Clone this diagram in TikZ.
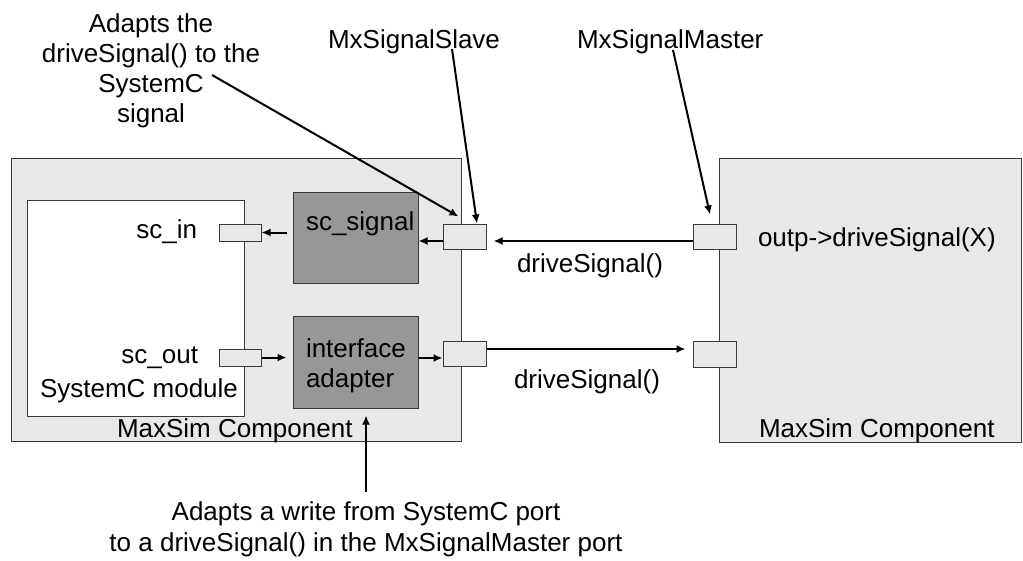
\documentclass[tikz,border=0pt]{standalone}
\usepackage{fontspec}
\setmainfont{Liberation Sans}
\usetikzlibrary{arrows.meta}
\definecolor{compgray}{HTML}{E8E8E8}
\definecolor{blockgray}{HTML}{979797}
\definecolor{edgegray}{HTML}{3A3A3A}
\tikzset{
  comp/.style={draw=edgegray, fill=compgray, line width=1pt, inner sep=0pt},
  module/.style={draw=edgegray, fill=white, line width=1pt, inner sep=0pt,
    minimum width=217pt, minimum height=216pt},
  block/.style={draw=edgegray, fill=blockgray, line width=1pt, inner sep=0pt,
    minimum width=125pt, minimum height=91pt},
  port/.style={draw=edgegray, fill=compgray, line width=1pt, inner sep=0pt,
    minimum width=43pt, minimum height=25pt},
  scport/.style={port, minimum width=42pt, minimum height=17pt},
  txt/.style={inner sep=0pt, font=\fontsize{26}{30}\selectfont},
}

\begin{document}
\begin{tikzpicture}[x=1pt, y=-1pt, >={Latex[length=9pt,width=8pt]}, line width=2pt]
\useasboundingbox (0,0) rectangle (1023,560);

\node[comp, minimum width=450pt, minimum height=283pt] (maxl) at (236,299.5) {};
\node[comp, minimum width=302pt, minimum height=284pt] (maxr) at (870,300) {};
\node[module] (scmod) at (135.5,308) {};
\node[block] (sig) at (355.5,237.5) {};
\node[block, minimum height=92pt] (adp) at (355.5,362) {};
\node[scport] (scin) at (240,232.5) {};
\node[scport] (scout) at (240,357.5) {};
\node[port] (sl1) at (464.5,236.5) {};
\node[port] (sl2) at (464.5,353.5) {};
\node[port] (ms1) at (714.5,236.5) {};
\node[port, minimum height=26pt] (ms2) at (714.5,354) {};

\node[txt, anchor=base west] (sigtxt) at (305,230) {sc\_signal};
\node[txt, anchor=north west, align=left] (adptxt) at (305,338) {interface\\adapter};
\node[txt, anchor=base east] (scintxt) at (198,238) {sc\_in};
\node[txt, anchor=base east] (scouttxt) at (199,363) {sc\_out};
\node[txt, anchor=base west] (modtxt) at (39,397) {SystemC module};
\node[txt, anchor=base west] (maxltxt) at (116,437) {MaxSim Component};
\node[txt, anchor=base west] (maxrtxt) at (758,437) {MaxSim Component};
\node[txt, anchor=base west] (outptxt) at (757,246) {outp->driveSignal(X)};
\node[txt, anchor=base] (drvup) at (590,272) {driveSignal()};
\node[txt, anchor=base] (drvdn) at (587,388) {driveSignal()};

\node[txt, anchor=base west] (lslave) at (327,48) {MxSignalSlave};
\node[txt, anchor=base west] (lmaster) at (576,48) {MxSignalMaster};
\node[txt, anchor=north, align=center] (lsig) at (151,13)
  {Adapts the\\driveSignal() to the\\SystemC\\signal};
\node[txt, anchor=north, align=center, font=\fontsize{26}{31}\selectfont] (ladp) at (366,501)
  {Adapts a write from SystemC port\\to a driveSignal() in the MxSignalMaster port};

% signal path
\draw[->, shorten <=6pt] (scin.east -| sig.west) -- (scin.east);
\draw[->] ([yshift=-4.5pt]sl1.west) -- ([yshift=-4.5pt]sl1.west -| sig.east);
\draw[->] ([yshift=-4.5pt]ms1.west) -- ([yshift=-4.5pt, xshift=7pt]sl1.east);
\draw[->, shorten >=6pt] (scout.east) -- (scout.east -| adp.west);
\draw[->] ([yshift=-4.5pt]sl2.west -| adp.east) -- ([yshift=-4.5pt]sl2.west);
\draw[->, shorten >=7pt] ([yshift=4.5pt]sl2.east) -- ([yshift=4.5pt]sl2.east -| ms2.west);

% callouts
\draw[->] ([xshift=61pt, yshift=-62pt]lsig.north) -- ([xshift=-6pt, yshift=7pt]sl1.north);
\draw[->] ([xshift=125pt, yshift=-1pt]lslave.base west) -- ([xshift=12.5pt]sl1.north);
\draw[->] ([xshift=97pt, yshift=-2pt]lmaster.base west) -- ([xshift=-4.5pt, yshift=9pt]ms1.north);
\draw[->] ([yshift=9pt]ladp.north) -- ([yshift=-7pt]ladp.north |- adp.south);
\end{tikzpicture}
\end{document}
